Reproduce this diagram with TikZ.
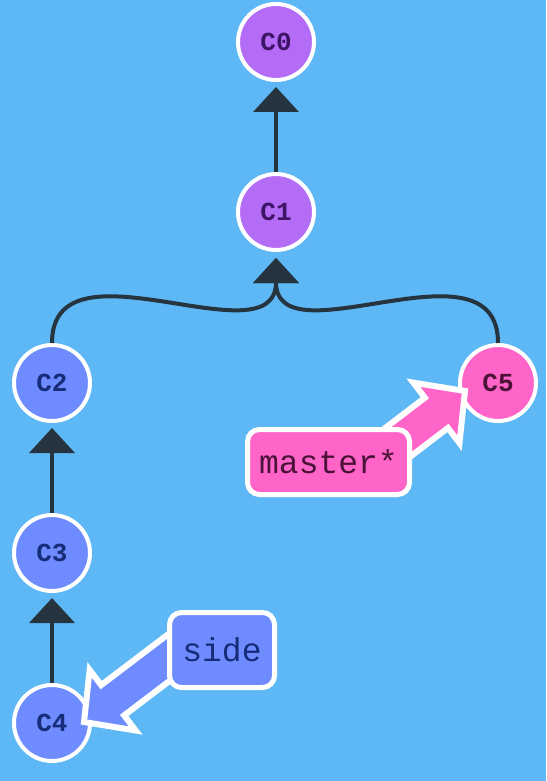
\documentclass[tikz,border=0pt]{standalone}
\usepackage{fontspec}
\setmonofont{Liberation Mono}
\usetikzlibrary{arrows.meta,calc}
\definecolor{bg}{HTML}{5DB8F5}
\definecolor{purp}{HTML}{B46CF6}
\definecolor{blu}{HTML}{6E8CFF}
\definecolor{pnk}{HTML}{FF64C8}
\definecolor{edge}{HTML}{263440}
\definecolor{purptxt}{HTML}{3D1466}
\definecolor{blutxt}{HTML}{162C78}
\definecolor{pnktxt}{HTML}{4A1236}
\tikzset{
 commit/.style={circle, draw=white, line width=4pt, minimum size=76pt, inner sep=0pt,
   font=\ttfamily\bfseries\fontsize{26}{26}\selectfont},
 conn/.style={draw=edge, line width=4pt, -{Triangle[length=25pt,width=45pt]}},
 branchbox/.style={draw=white, line width=5pt, rounded corners=12pt, inner sep=0pt,
   font=\ttfamily\fontsize{33}{33}\selectfont},
 bigarrow/.style={draw=white, line width=6pt, line join=miter}
}
\newcommand\branchptr[4]{%
 \coordinate (#4H) at ($(#2)!36pt!(#1)$);
 \filldraw[bigarrow, fill=#3] ($(#1)!19pt!90:(#2)$) -- ($(#4H)!19pt!-90:(#1)$)
   -- ($(#4H)!38pt!-90:(#1)$) -- (#2) -- ($(#4H)!38pt!90:(#1)$)
   -- ($(#4H)!19pt!90:(#1)$) -- ($(#1)!19pt!-90:(#2)$) -- cycle;}
\begin{document}
\begin{tikzpicture}[x=1pt,y=-1pt]
\fill[bg] (0,0) rectangle (546,781);
\path[use as bounding box] (0,0) rectangle (546,781);
\node[commit, fill=purp, text=purptxt] (c0) at (276,42) {C0};
\node[commit, fill=purp, text=purptxt] (c1) at (276,212) {C1};
\node[commit, fill=blu, text=blutxt] (c2) at (52,383) {C2};
\node[commit, fill=blu, text=blutxt] (c3) at (52,553) {C3};
\node[commit, fill=blu, text=blutxt] (c4) at (52,723) {C4};
\node[commit, fill=pnk, text=pnktxt] (c5) at (498,383) {C5};
\draw[conn] (c1.north) -- ([yshift=-5pt]c0.south);
\draw[conn] (c3.north) -- ([yshift=-5pt]c2.south);
\draw[conn] (c4.north) -- ([yshift=-5pt]c3.south);
\draw[conn] (c2.north) .. controls +(0,-110) and +(0,105) .. ([yshift=-6pt]c1.south);
\draw[conn] (c5.north) .. controls +(0,-110) and +(0,105) .. ([yshift=-6pt]c1.south);
\coordinate (mtail) at (372,462);
\coordinate (mtip) at (465,391);
\coordinate (stail) at (192,640);
\coordinate (stip) at (84,722);
\branchptr{mtail}{mtip}{pnk}{m}
\branchptr{stail}{stip}{blu}{s}
\node[branchbox, fill=pnk, text=pnktxt, minimum width=162pt, minimum height=65pt] (master) at (328.5,462) {master*};
\node[branchbox, fill=blu, text=blutxt, minimum width=105pt, minimum height=75pt] (side) at (222,650) {side};
\end{tikzpicture}
\end{document}
